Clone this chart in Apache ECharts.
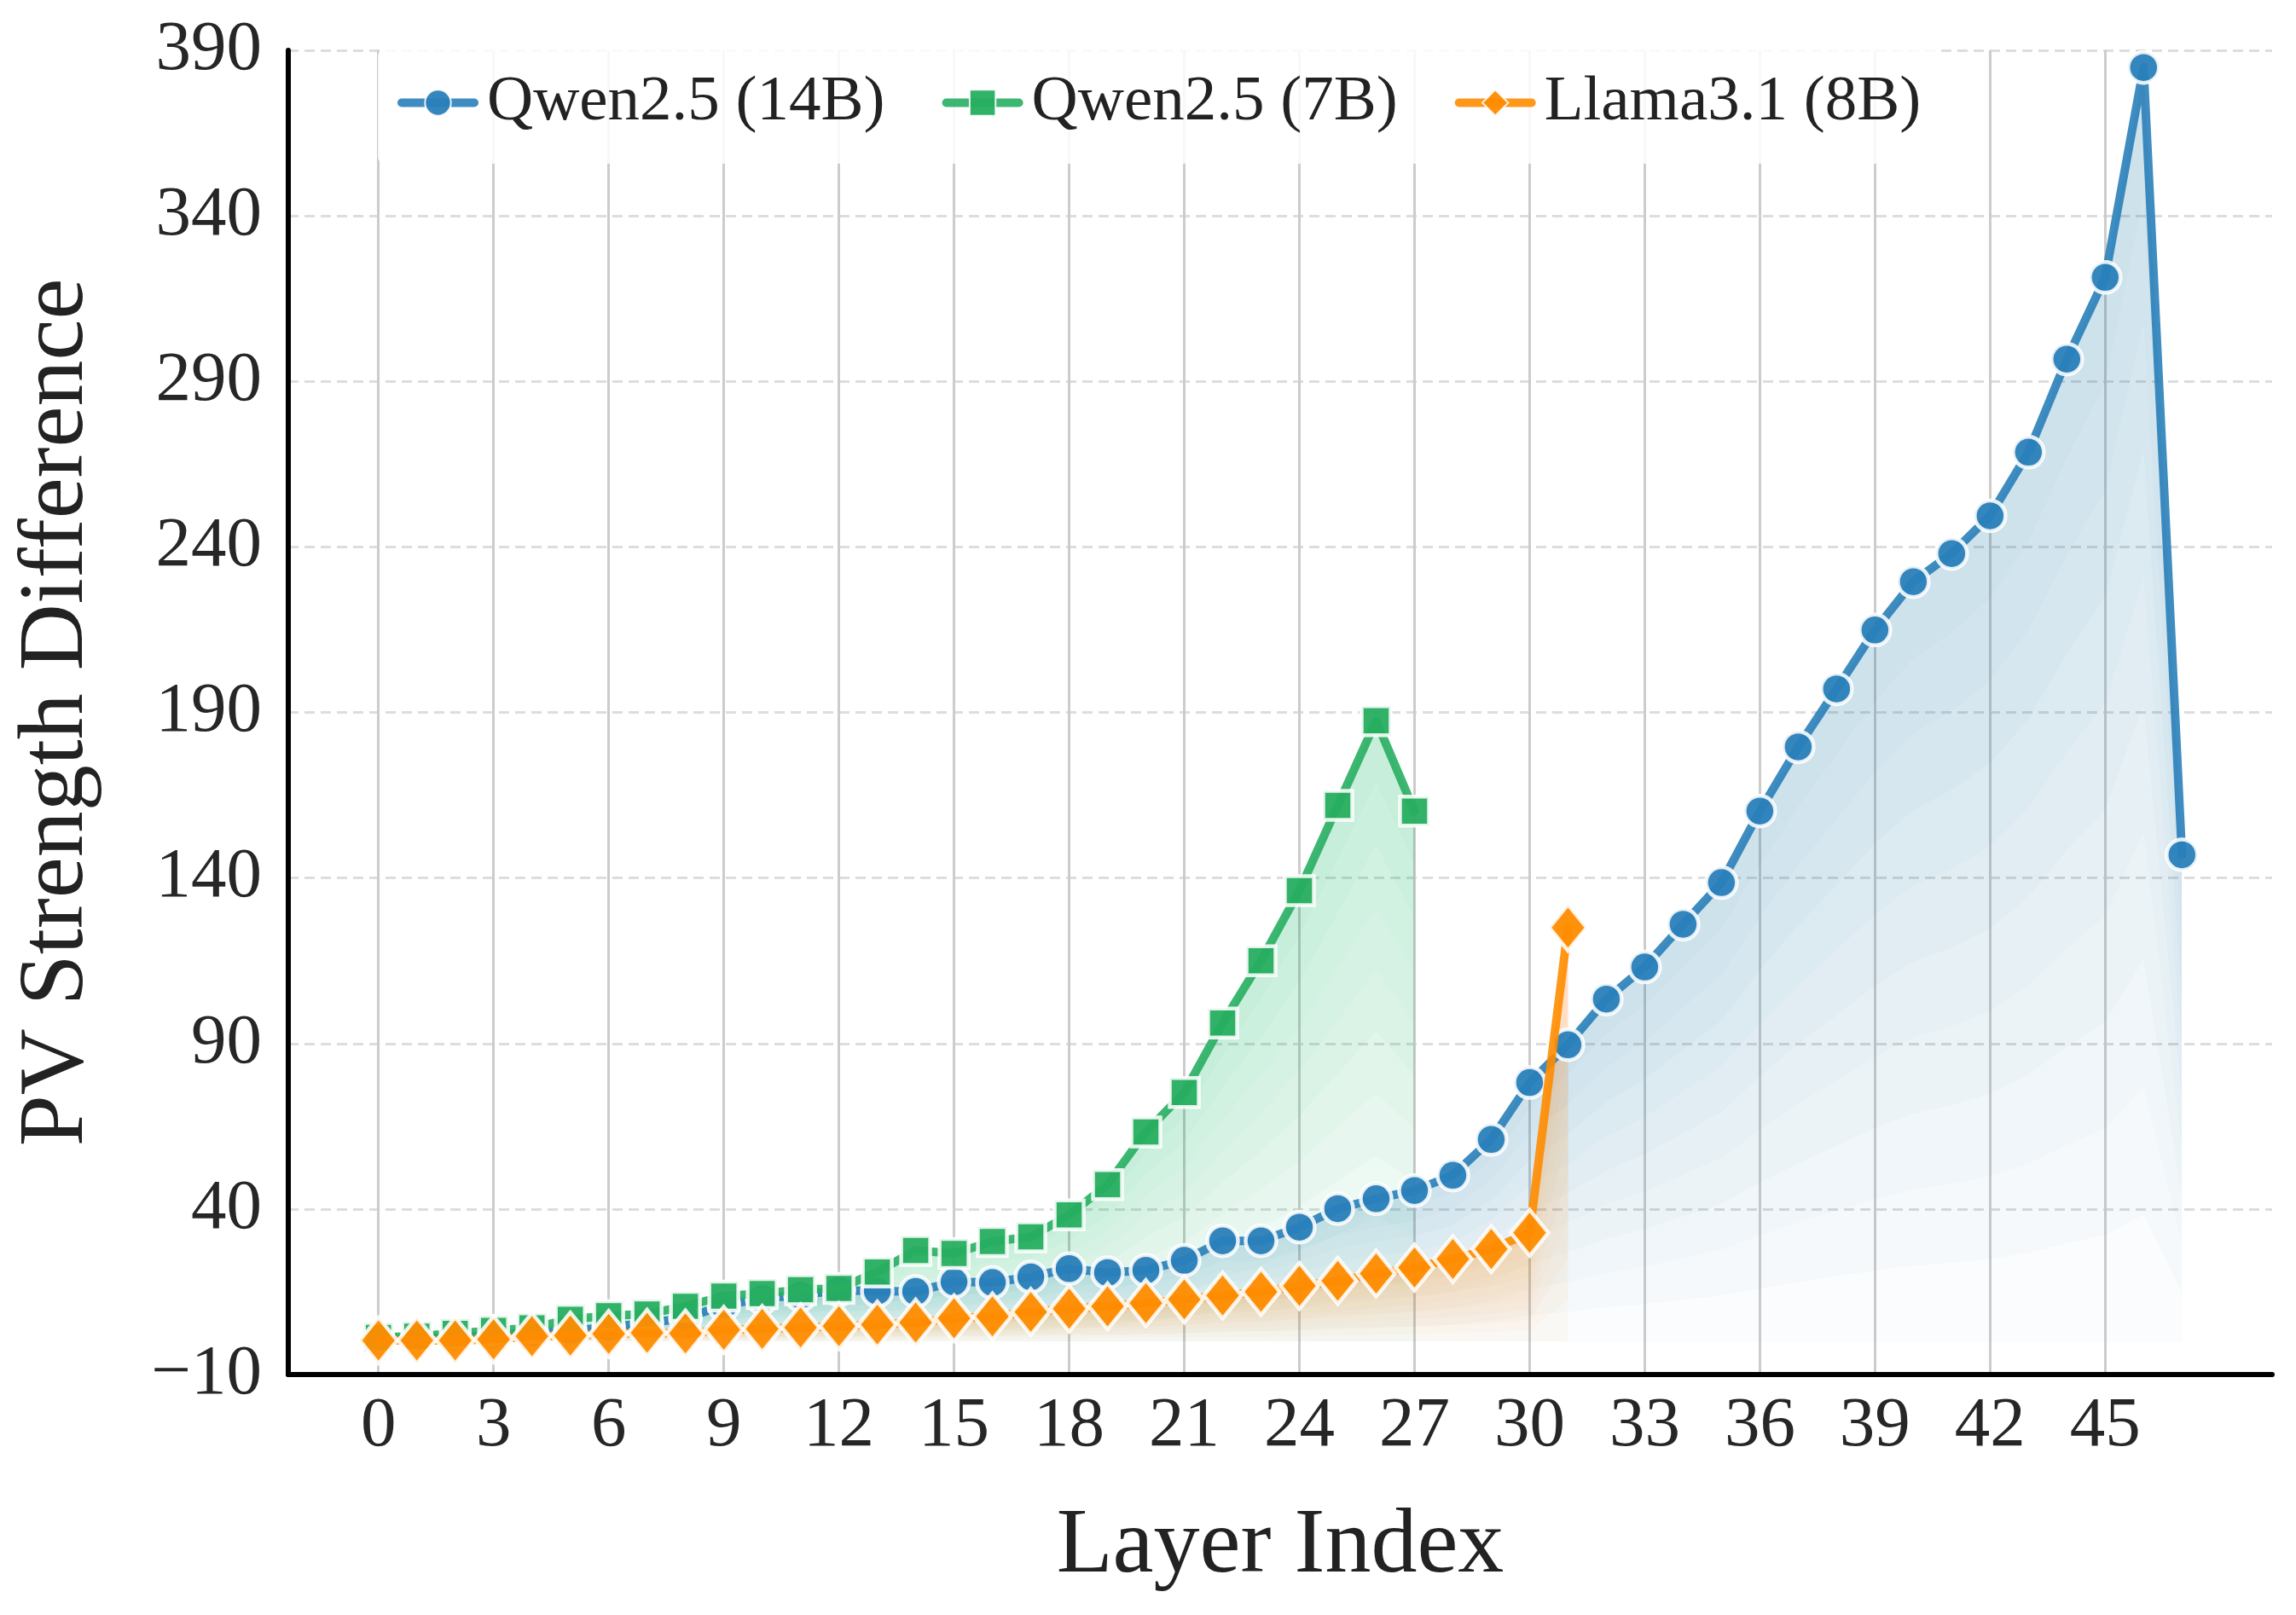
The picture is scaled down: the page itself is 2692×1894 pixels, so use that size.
<!DOCTYPE html>
<html>
<head>
<meta charset="utf-8">
<script src="https://cdn.jsdelivr.net/npm/echarts@6/dist/echarts.min.js"></script>
<style>
  html, body { margin: 0; padding: 0; background: #fff; }
  #chart { width: 2692px; height: 1894px; }
</style>
</head>
<body>
<div id="chart"></div>
<script>
// layer indices (x values)
var layers = [0, 1, 2, 3, 4, 5, 6, 7, 8, 9, 10, 11, 12, 13, 14, 15, 16, 17, 18, 19,
  20, 21, 22, 23, 24, 25, 26, 27, 28, 29, 30, 31, 32, 33, 34, 35, 36, 37, 38, 39,
  40, 41, 42, 43, 44, 45, 46, 47];

var qwen14 = [0.3, 0.8, 1.3, 2.0, 2.6, 3.3, 4.3, 5.6, 7.0, 11.0, 13.0, 14.0, 15.5, 15.2, 15.1,
  18.0, 17.8, 19.5, 22.0, 20.8, 21.5, 24.5, 30.4, 30.4, 34.5, 40.1, 43.1, 45.6, 50.2, 61.0,
  78.2, 89.6, 103.4, 113.1, 126.0, 138.6, 160.2, 179.6, 197.1, 214.9, 229.5, 238.0, 249.4,
  268.6, 296.7, 321.4, 384.8, 147.0];

var qwen7 = [1.2, 1.6, 2.4, 3.3, 4.1, 6.7, 7.8, 8.3, 10.6, 13.7, 14.5, 15.6, 16.0, 21.0,
  27.5, 26.6, 30.2, 31.6, 38.2, 47.4, 63.3, 75.2, 96.2, 115.0, 136.2, 161.9, 187.5, 160.2];

var llama8 = [0.3, 0.3, 0.3, 0.6, 1.6, 1.8, 2.3, 2.6, 2.4, 3.5, 3.8, 4.2, 4.6, 5.1, 5.7,
  7.0, 7.6, 8.9, 9.9, 10.6, 11.6, 12.7, 13.9, 15.0, 16.8, 18.3, 20.5, 22.3, 24.9, 27.9,
  32.8, 125.0];

var xTicks = [0, 3, 6, 9, 12, 15, 18, 21, 24, 27, 30, 33, 36, 39, 42, 45];
var yTicks = [-10, 40, 90, 140, 190, 240, 290, 340, 390];

var names = ['Qwen2.5 (14B)', 'Qwen2.5 (7B)', 'Llama3.1 (8B)'];
var colors = ['#2980b9', '#27ae60', '#ff8c00'];
var fills = ['rgba(41,128,185,0.024)', 'rgba(39,174,96,0.027)', 'rgba(255,140,0,0.03)'];

var font = 'Liberation Serif';

var myChart = echarts.init(document.getElementById('chart'));

function pairs(vals) {
  return vals.map(function (v, i) { return [layers[i], v]; });
}

// layered shading under a line, like stacked translucent fills
function shade(idx, vals) {
  return {
    type: 'custom',
    name: names[idx] + ' fill',
    z: 1,
    silent: true,
    data: pairs(vals),
    renderItem: function (params, api) {
      if (params.dataIndex !== 0) return null;
      var top = vals.map(function (v, i) { return api.coord([layers[i], v]); });
      var kids = [];
      for (var k = 0; k < 10; k++) {
        var bot = vals.map(function (v, i) { return api.coord([layers[i], v * k / 10]); }).reverse();
        kids.push({
          type: 'polygon',
          shape: { points: top.concat(bot) },
          style: { fill: fills[idx] }
        });
      }
      return { type: 'group', children: kids };
    }
  };
}

function line(idx, vals, symbol, size, z) {
  return {
    type: 'line',
    name: names[idx],
    z: z,
    data: pairs(vals),
    symbol: symbol,
    symbolSize: size,
    showAllSymbol: true,
    lineStyle: { color: colors[idx], width: 10, opacity: 0.9, cap: 'round', join: 'round' },
    itemStyle: { color: colors[idx], borderColor: 'rgba(255,255,255,0.92)', borderWidth: 4.5, opacity: 0.95 },
    emphasis: { disabled: true }
  };
}

var option = {
  animation: false,
  grid: { left: 338, right: 28, top: 59, bottom: 282, containLabel: false },
  legend: {
    data: names,
    left: 443,
    top: 58,
    orient: 'horizontal',
    padding: [25, 23, 34, 23],
    itemGap: 67,
    itemWidth: 85,
    itemHeight: 38,
    backgroundColor: 'rgba(255,255,255,0.85)',
    borderRadius: 8,
    lineStyle: { width: 10, cap: 'round' },
    textStyle: { fontFamily: font, fontSize: 75, color: '#222', lineHeight: 75, padding: [0, 0, 0, 10] }
  },
  xAxis: {
    type: 'value',
    min: -2.35,
    max: 49.35,
    name: 'Layer Index',
    nameLocation: 'middle',
    nameGap: 149,
    nameTextStyle: { fontFamily: font, fontSize: 108, color: '#222' },
    axisLine: { onZero: false, lineStyle: { color: '#000', width: 6 } },
    axisTick: { show: false, customValues: xTicks },
    axisLabel: { customValues: xTicks, margin: 20, fontFamily: font, fontSize: 83, color: '#262626' },
    splitLine: { show: true, lineStyle: { color: '#cccccc', width: 3, type: 'solid' } }
  },
  yAxis: {
    type: 'value',
    min: -10,
    max: 390,
    name: 'PV Strength Difference',
    nameLocation: 'middle',
    nameGap: 216,
    nameTextStyle: { fontFamily: font, fontSize: 108, color: '#222' },
    axisLine: { show: true, onZero: false, lineStyle: { color: '#000', width: 6 } },
    axisTick: { show: false, customValues: yTicks },
    axisLabel: {
      customValues: yTicks, margin: 31, fontFamily: font, fontSize: 83, color: '#262626',
      formatter: function (v) { return v < 0 ? '\u2212' + Math.abs(v) : String(v); }
    },
    splitLine: { show: true, lineStyle: { color: '#dddddd', width: 3, type: [12, 7] } }
  },
  series: [
    shade(0, qwen14),
    shade(1, qwen7),
    shade(2, llama8),
    line(0, qwen14, 'circle', 36, 2),
    line(1, qwen7, 'rect', 34, 3),
    line(2, llama8, 'diamond', [44, 54], 4)
  ]
};

myChart.setOption(option);
</script>
</body>
</html>
